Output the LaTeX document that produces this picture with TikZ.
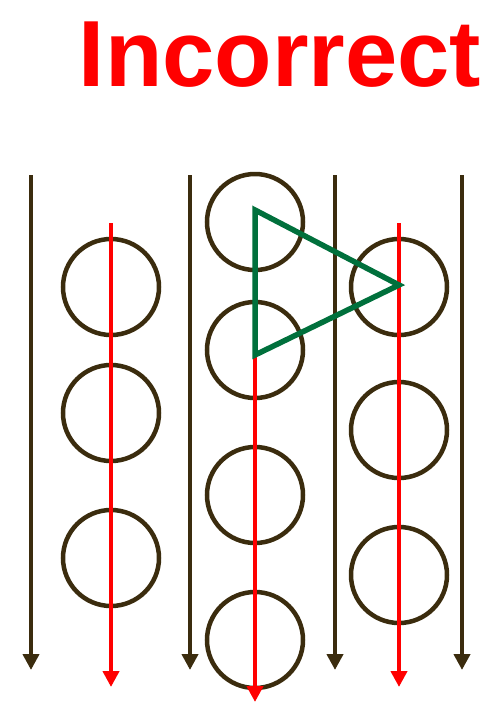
\documentclass[tikz,border=0pt]{standalone}
\usepackage{fontspec}
\setmainfont{Liberation Sans}
\usetikzlibrary{arrows.meta}
\definecolor{wire}{RGB}{59,44,14}
\definecolor{leaf}{RGB}{0,112,60}

\begin{document}
\begin{tikzpicture}[
  x=1pt, y=-1pt,
  ring/.style ={draw=wire, line width=4.5pt, circle, minimum size=96pt, inner sep=0pt},
  rail/.style ={draw=wire, line width=4.5pt, -{Triangle[length=16pt, width=16pt]}},
  flow/.style ={draw=red, line width=4pt, -{Triangle[length=16pt, width=16pt]}},
  tri/.style  ={draw=leaf, line width=5.5pt, line join=miter},
  title/.style={anchor=base, text=red, font=\fontsize{94}{94}\selectfont\bfseries},
]
\useasboundingbox (0,0) rectangle (488,707);
\node[title] (head) at (280,86) {Incorrect};
% black rails
\foreach \n/\x in {1/31, 2/190, 3/335, 4/462} {
  \coordinate (r\n top) at (\x,175);
  \coordinate (r\n bot) at (\x,670);
  \draw[rail] (r\n top) -- (r\n bot);
}
% rings
\foreach \n/\y in {1/287, 2/413, 3/558}
  \node[ring] (a\n) at (111,\y) {};
\foreach \n/\y in {1/222, 2/350, 3/495, 4/640}
  \node[ring] (b\n) at (255,\y) {};
\foreach \n/\y in {1/287, 2/430, 3/575}
  \node[ring] (c\n) at (399,\y) {};
% triangle corners
\coordinate (tA) at (255,210);
\coordinate (tB) at (255,355);
\coordinate (tC) at (399,285);
% red flows
\coordinate (fa top) at (111,223);
\coordinate (fa bot) at (111,687);
\coordinate (fc top) at (399,223);
\coordinate (fc bot) at (399,687);
\coordinate (fb bot) at (255,702);
\draw[flow] (fa top) -- (fa bot);
\draw[flow] (tB) -- (fb bot);
\draw[flow] (fc top) -- (fc bot);
\draw[tri] (tA) -- (tC) -- (tB) -- cycle;
\end{tikzpicture}
\end{document}
